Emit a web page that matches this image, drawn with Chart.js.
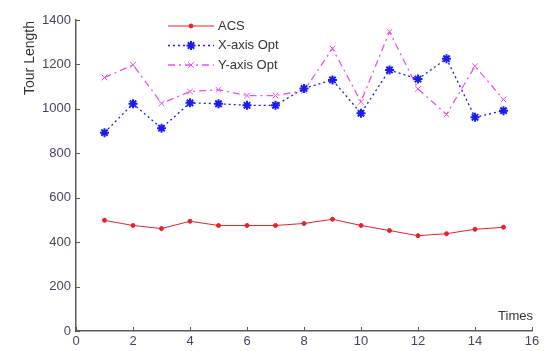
<!DOCTYPE html>
<html>
<head>
<meta charset="utf-8">
<script src="https://cdn.jsdelivr.net/npm/chart.js@4/dist/chart.umd.min.js"></script>
<style>
  html, body { margin: 0; padding: 0; background: #fff; }
  #wrap { width: 550px; height: 351px; position: relative; }
</style>
</head>
<body>
<div id="wrap"><canvas id="tourChart"></canvas></div>
<script>
const times = [1, 2, 3, 4, 5, 6, 7, 8, 9, 10, 11, 12, 13, 14, 15];
const acs   = [498, 475, 461, 494, 475, 475, 475, 484, 503, 475, 452, 429, 438, 458, 467];
const xOpt  = [893, 1023, 913, 1027, 1023, 1016, 1016, 1092, 1130, 980, 1175, 1134, 1226, 962, 992];
const yOpt  = [1141, 1198, 1025, 1078, 1086, 1060, 1060, 1082, 1272, 1032, 1347, 1090, 975, 1192, 1042];
const xTicks = [0, 2, 4, 6, 8, 10, 12, 14, 16];
const yTicks = [0, 200, 400, 600, 800, 1000, 1200, 1400];

const FONT = '"Liberation Sans", Arial, sans-serif';
const axisColor = '#5a5a5a';
const labelColor = '#4e4060';

function pts(ys) {
    return times.map((t, i) => ({ x: t, y: ys[i] }));
}

// ticks pointing inward + axis titles + legend inside the plot
const extras = {
    id: 'extras',
    afterDraw(chart) {
        const c = chart.ctx;
        const xs = chart.scales.x, ys = chart.scales.y;
        const area = chart.chartArea;
        c.save();
        c.strokeStyle = axisColor;
        c.lineWidth = 1;
        c.beginPath();
        xTicks.forEach(v => {
            const px = Math.round(xs.getPixelForValue(v)) + 0.5;
            c.moveTo(px, area.bottom);
            c.lineTo(px, area.bottom - 4);
        });
        yTicks.forEach(v => {
            const py = Math.round(ys.getPixelForValue(v)) + 0.5;
            c.moveTo(area.left, py);
            c.lineTo(area.left + 4, py);
        });
        c.stroke();

        c.fillStyle = '#333';
        c.font = '14px ' + FONT;
        c.save();
        c.translate(30, 58);
        c.rotate(-Math.PI / 2);
        c.textAlign = 'center';
        c.textBaseline = 'middle';
        c.fillText('Tour Length', 0, 0);
        c.restore();

        c.font = '13px ' + FONT;
        c.textAlign = 'right';
        c.textBaseline = 'middle';
        c.fillText('Times', 533, 316);

        // legend
        const lx0 = 168, lx1 = 214, rows = [26, 45.5, 65];
        chart.data.datasets.forEach((ds, i) => {
            const y = rows[i];
            c.strokeStyle = ds.borderColor;
            c.lineWidth = ds.borderWidth;
            c.setLineDash(ds.borderDash || []);
            c.beginPath();
            c.moveTo(lx0, y);
            c.lineTo(lx1, y);
            c.stroke();
            c.setLineDash([]);
            c.fillStyle = ds.backgroundColor;
            c.strokeStyle = ds.borderColor;
            c.lineWidth = ds.pointBorderWidth;
            Chart.helpers.drawPoint(c, {
                pointStyle: ds.pointStyle,
                radius: ds.pointRadius,
                borderWidth: ds.pointBorderWidth
            }, (lx0 + lx1) / 2, y);
            c.fillStyle = '#333';
            c.textAlign = 'left';
            c.fillText(ds.label, 218, y);
        });
        c.restore();
    }
};

const ctx = document.getElementById('tourChart').getContext('2d');
const chart = new Chart(ctx, {
    type: 'line',
    data: {
        datasets: [{
            label: 'ACS',
            data: pts(acs),
            borderColor: '#e8202c',
            backgroundColor: '#e8202c',
            borderWidth: 1,
            pointStyle: 'circle',
            pointRadius: 2,
            pointBorderWidth: 1,
            tension: 0
        }, {
            label: 'X-axis Opt',
            data: pts(xOpt),
            borderColor: '#1c1cf0',
            backgroundColor: '#1c1cf0',
            borderWidth: 1.3,
            borderDash: [2, 3],
            pointStyle: 'star',
            pointRadius: 4.5,
            pointBorderWidth: 2,
            tension: 0
        }, {
            label: 'Y-axis Opt',
            data: pts(yOpt),
            borderColor: '#ec50ec',
            backgroundColor: '#ec50ec',
            borderWidth: 1.3,
            borderDash: [7, 4, 2, 4],
            pointStyle: 'crossRot',
            pointRadius: 4,
            pointBorderWidth: 1,
            tension: 0
        }]
    },
    options: {
        responsive: true,
        maintainAspectRatio: false,
        animation: false,
        layout: { padding: { top: 20, right: 18, left: 0, bottom: 0 } },
        plugins: { legend: { display: false }, tooltip: { enabled: false } },
        scales: {
            x: {
                type: 'linear',
                min: 0, max: 16,
                afterBuildTicks: s => { s.ticks = xTicks.map(v => ({ value: v })); },
                afterFit: s => { s.height = 20; },
                grid: { display: false, drawTicks: false },
                border: { display: true, color: axisColor, width: 1.5 },
                ticks: { color: labelColor, padding: 3, font: { family: FONT, size: 13 },
                         callback: v => String(v) }
            },
            y: {
                min: 0, max: 1400,
                afterBuildTicks: s => { s.ticks = yTicks.map(v => ({ value: v })); },
                afterFit: s => { s.width = 76; },
                grid: { display: false, drawTicks: false },
                border: { display: true, color: axisColor, width: 1.5 },
                ticks: { color: labelColor, padding: 5, font: { family: FONT, size: 13 },
                         callback: v => String(v) }
            }
        }
    },
    plugins: [extras]
});
</script>
</body>
</html>
